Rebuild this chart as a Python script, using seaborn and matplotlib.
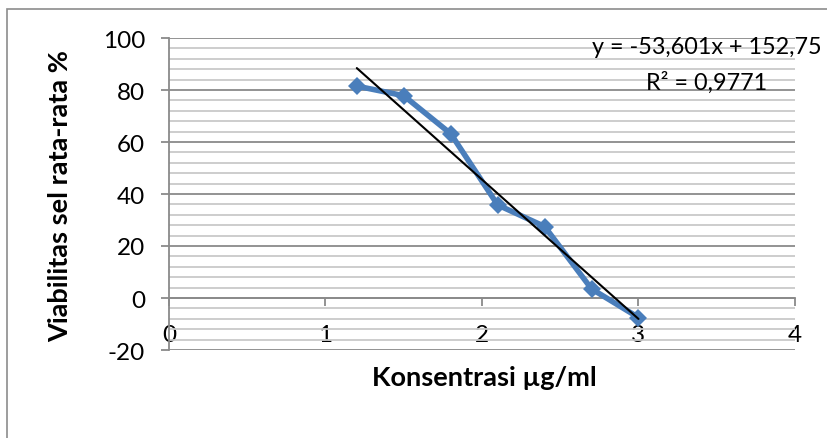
import matplotlib
matplotlib.use("Agg")
import matplotlib.pyplot as plt
from matplotlib.ticker import MultipleLocator, FixedLocator
from matplotlib.patches import Rectangle
import seaborn as sns

# Concentration (µg/ml) and mean cell viability (%)
konsentrasi = [1.2, 1.5, 1.8, 2.1, 2.4, 2.7, 3.0]
viabilitas = [81.5, 77.8, 63.2, 35.8, 27.5, 3.5, -7.5]

# Linear trendline parameters
slope = -53.601
intercept = 152.75
r_squared = 0.9771

x_ticks = [0, 1, 2, 3, 4]
y_ticks = [-20, 0, 20, 40, 60, 80, 100]

sns.set_theme(style="white")
plt.rcParams["font.family"] = ["Lato", "DejaVu Sans"]
plt.rcParams["axes.unicode_minus"] = False

W, H = 828, 439
fig = plt.figure(figsize=(W / 100, H / 100), dpi=100)
left, right, top, bottom = 169, 795, 39, 351
ax = fig.add_axes([left / W, (H - bottom) / H, (right - left) / W, (bottom - top) / H])

major_grey = "#8a8a8a"
minor_grey = "#c9c9c9"
blue = "#4a7ebb"

# Measured series
sns.lineplot(x=konsentrasi, y=viabilitas, ax=ax, color=blue, linewidth=4.0,
             marker="D", markersize=9.6, markeredgecolor=blue, markeredgewidth=0,
             zorder=3)

# Linear trendline across the measured range
trend_x = [min(konsentrasi), max(konsentrasi)]
trend_y = [slope * x + intercept for x in trend_x]
sns.lineplot(x=trend_x, y=trend_y, ax=ax, color="black", linewidth=1.5, zorder=4)

ax.set_xlim(x_ticks[0], x_ticks[-1])
ax.set_ylim(y_ticks[0], y_ticks[-1])
ax.xaxis.set_major_locator(FixedLocator(x_ticks))
ax.yaxis.set_major_locator(FixedLocator(y_ticks))
ax.yaxis.set_minor_locator(MultipleLocator(4))

ax.set_axisbelow(True)
ax.grid(False)
ax.grid(which="minor", axis="y", color=minor_grey, linewidth=1.3)
ax.grid(which="major", axis="y", color=major_grey, linewidth=1.3)

for side in ("top", "right"):
    ax.spines[side].set_visible(False)
ax.spines["bottom"].set_position(("data", 0))
for side in ("left", "bottom"):
    ax.spines[side].set_color(major_grey)
    ax.spines[side].set_linewidth(1.3)

ax.tick_params(axis="both", which="minor", length=0)
ax.tick_params(axis="y", which="major", left=True, direction="out", length=5.8,
               width=1.3, color=major_grey, pad=11.5, labelsize=17.5,
               labelcolor="black")
ax.tick_params(axis="x", which="major", bottom=True, direction="out", length=5.8,
               width=1.3, color=major_grey, pad=13, labelsize=17.5,
               labelcolor="black")

ax.set_xlabel("Konsentrasi µg/ml", fontsize=19.5, fontweight="bold", color="black")
ax.xaxis.label.set_va("center")
ax.xaxis.set_label_coords((484 - left) / (right - left), (bottom - 378) / (bottom - top))
ax.set_ylabel("Viabilitas sel rata-rata %", fontsize=19.5, fontweight="bold", color="black")
ax.yaxis.label.set_va("center")
ax.yaxis.set_label_coords((60 - left) / (right - left), (bottom - 196) / (bottom - top))

eq_text = f"y = {slope:.3f}x + {intercept:.2f}".replace(".", ",")
r2_text = f"R² = {r_squared:.4f}".replace(".", ",")
fig.text(707 / W, 1 - 48 / H, eq_text, ha="center", va="center", fontsize=16.8, color="black")
fig.text(707 / W, 1 - 83 / H, r2_text, ha="center", va="center", fontsize=16.8, color="black")

# Chart-area border
fig.patches.append(Rectangle((7 / W, -0.1), 2, 1 - 10 / H + 0.1, transform=fig.transFigure,
                             fill=False, edgecolor="#8c8c8c", linewidth=1.2))

fig.savefig("out.png", dpi=100)
